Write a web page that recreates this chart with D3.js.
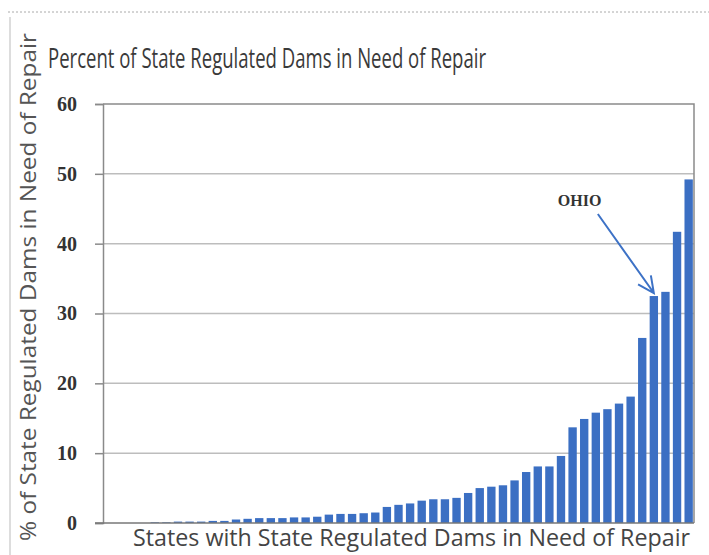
<!DOCTYPE html>
<html>
<head>
<meta charset="utf-8">
<script src="https://cdn.jsdelivr.net/npm/d3@7"></script>
<style>
body { margin: 0; background: #fff; }
svg { display: block; }
</style>
</head>
<body>
<div id="chart"></div>
<script>

var width = 709,
    height = 555;

// one bar per state, sorted low to high
var values = [0, 0, 0, 0, 0.1, 0.1, 0.2, 0.2, 0.2, 0.3,
  0.3, 0.5, 0.6, 0.7, 0.7, 0.7, 0.8, 0.8, 0.9, 1.2,
  1.3, 1.3, 1.4, 1.5, 2.3, 2.6, 2.8, 3.2, 3.4, 3.4,
  3.6, 4.3, 5.0, 5.2, 5.4, 6.1, 7.3, 8.1, 8.1, 9.6,
  13.7, 14.9, 15.8, 16.3, 17.1, 18.1, 26.5, 32.5, 33.1, 41.7,
  49.2];
var states = values.map(function(d, i){ return "s" + i });
var yTicks = [0, 10, 20, 30, 40, 50, 60];
var ohioIndex = 47;

var title = "Percent of State Regulated Dams in Need of Repair",
    xTitle = "States with State Regulated Dams in Need of Repair",
    yTitle = "% of State Regulated Dams in Need of Repair";

var margin = {left: 103, right: 15, top: 104, bottom: 32};

var svg = d3.select("#chart").append("svg")
.attr("width", width)
.attr("height", height);

var x = d3.scaleBand()
.domain(states)
.range([margin.left, width - margin.right])
.paddingInner(0.28)
.paddingOuter(0.1);

var y = d3.scaleLinear()
.domain([0, 60])
.range([height - margin.bottom, margin.top]);

// outer frame bits
svg.append("line")
.attr("x1", 8).attr("x2", width).attr("y1", 12).attr("y2", 12)
.style("stroke", "#aaa").style("stroke-dasharray", "2,2");
svg.append("line")
.attr("x1", 10).attr("x2", 10).attr("y1", 17).attr("y2", height)
.style("stroke", "#bbb");

// gridlines
svg.append("g")
.selectAll("line")
.data(yTicks.filter(function(d){ return d > 0 && d < 60 }))
.enter().append("line")
.attr("x1", margin.left).attr("x2", width - margin.right)
.attr("y1", function(d){ return y(d) }).attr("y2", function(d){ return y(d) })
.style("stroke", "#bdbdbd").style("stroke-width", 1.5);

// plot border (top + right)
svg.append("path")
.attr("d", "M" + margin.left + "," + y(60) + "H" + (width - margin.right) + "V" + y(0))
.style("fill", "none").style("stroke", "#8a8a8a").style("stroke-width", 1.5);

// bars
svg.append("g")
.selectAll("rect")
.data(values)
.enter().append("rect")
.attr("x", function(d, i){ return x(states[i]) })
.attr("width", x.bandwidth())
.attr("y", function(d){ return y(d) })
.attr("height", function(d){ return y(0) - y(d) })
.style("fill", "#3b6fc3");

// y axis
var yAxis = d3.axisLeft(y).tickValues(yTicks).tickSize(8).tickPadding(18);
var ya = svg.append("g")
.attr("transform", "translate(" + margin.left + ",0)")
.call(yAxis);
ya.select(".domain").style("stroke", "#8a8a8a").style("stroke-width", 1.5);
ya.selectAll(".tick line").style("stroke", "#8a8a8a").style("stroke-width", 1.5);
ya.selectAll(".tick text")
.style("font-family", "'Liberation Serif', serif")
.style("font-weight", "bold")
.style("font-size", "20px")
.style("fill", "#333");

// x baseline
svg.append("line")
.attr("x1", margin.left - 8).attr("x2", width - margin.right)
.attr("y1", y(0)).attr("y2", y(0))
.style("stroke", "#777").style("stroke-width", 1.5);

// titles
svg.append("text")
.attr("x", 48).attr("y", 68)
.attr("textLength", 438).attr("lengthAdjust", "spacingAndGlyphs")
.style("font-family", "'Open Sans', sans-serif")
.style("font-size", "28px")
.style("fill", "#3a3a3a")
.text(title);

svg.append("text")
.attr("x", 133).attr("y", 546)
.attr("textLength", 557).attr("lengthAdjust", "spacingAndGlyphs")
.style("font-family", "'Open Sans', sans-serif")
.style("font-size", "23px")
.style("fill", "#444")
.text(xTitle);

svg.append("text")
.attr("transform", "translate(36,541) rotate(-90)")
.attr("textLength", 508).attr("lengthAdjust", "spacingAndGlyphs")
.style("font-family", "'Open Sans', sans-serif")
.style("font-size", "22px")
.style("fill", "#555")
.text(yTitle);

// OHIO call-out
var ox = x(states[ohioIndex]) + x.bandwidth() / 2,
    oy = y(values[ohioIndex]) - 3;

svg.append("text")
.attr("x", ox - 96).attr("y", oy - 87)
.style("font-family", "'Liberation Serif', serif")
.style("font-weight", "bold")
.style("font-size", "16px")
.style("fill", "#333")
.text("OHIO");

var sx = ox - 56, sy = oy - 79;
var ang = Math.atan2(oy - sy, ox - sx);
var head = 18;
svg.append("path")
.attr("d", "M" + sx + "," + sy + "L" + ox + "," + oy
  + "M" + (ox - head * Math.cos(ang - 0.45)) + "," + (oy - head * Math.sin(ang - 0.45))
  + "L" + ox + "," + oy
  + "L" + (ox - head * Math.cos(ang + 0.45)) + "," + (oy - head * Math.sin(ang + 0.45)))
.style("fill", "none")
.style("stroke", "#3d72c6")
.style("stroke-width", 2);

</script>
</body>
</html>
